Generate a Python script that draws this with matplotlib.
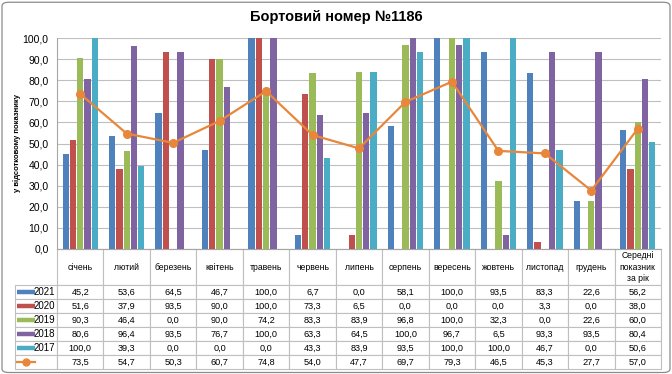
import numpy as np
import matplotlib
matplotlib.use("Agg")
import matplotlib.pyplot as plt
from matplotlib.table import Table
from matplotlib.patches import FancyBboxPatch

plt.rcParams['font.family'] = ['Liberation Sans', 'DejaVu Sans']

months = ['січень', 'лютий', 'березень', 'квітень', 'травень', 'червень',
          'липень', 'серпень', 'вересень', 'жовтень', 'листопад', 'грудень',
          'Середні\nпоказник\nза рік']
years = ['2021', '2020', '2019', '2018', '2017']
v2021 = [45.2, 53.6, 64.5, 46.7, 100.0, 6.7, 0.0, 58.1, 100.0, 93.5, 83.3, 22.6, 56.2]
v2020 = [51.6, 37.9, 93.5, 90.0, 100.0, 73.3, 6.5, 0.0, 0.0, 0.0, 3.3, 0.0, 38.0]
v2019 = [90.3, 46.4, 0.0, 90.0, 74.2, 83.3, 83.9, 96.8, 100.0, 32.3, 0.0, 22.6, 60.0]
v2018 = [80.6, 96.4, 93.5, 76.7, 100.0, 63.3, 64.5, 100.0, 96.7, 6.5, 93.3, 93.5, 80.4]
v2017 = [100.0, 39.3, 0.0, 0.0, 0.0, 43.3, 83.9, 93.5, 100.0, 100.0, 46.7, 0.0, 50.6]
average = [73.5, 54.7, 50.3, 60.7, 74.8, 54.0, 47.7, 69.7, 79.3, 46.5, 45.3, 27.7, 57.0]

series = [v2021, v2020, v2019, v2018, v2017]
colors = ['#4F81BD', '#C0504D', '#9BBB59', '#8064A2', '#4BACC6']
line_color = '#E8873A'
grid_color = '#BFBFBF'

W, H = 672, 374
fig = plt.figure(figsize=(W / 100, H / 100), dpi=100)

# plot area in pixels: x 57..661, y 38..249
px_l, px_r, px_t, px_b = 57, 661, 38, 249
ax = fig.add_axes([px_l / W, 1 - px_b / H, (px_r - px_l) / W, (px_b - px_t) / H])

n = len(months)
x = np.arange(n)
bw = 0.135
step = 0.157
for i, (vals, c) in enumerate(zip(series, colors)):
    ax.bar(x + (i - 2) * step, vals, width=bw, color=c, edgecolor='none', zorder=3)
ax.plot(x, average, color=line_color, lw=1.6, marker='o', ms=5.5, zorder=4)

ax.set_xlim(-0.5, n - 0.5)
ax.set_ylim(0, 100)
ax.set_yticks(np.arange(0, 101, 10))
ax.set_yticklabels([f'{v:.1f}'.replace('.', ',') for v in np.arange(0, 101, 10)], fontsize=7.5)
ax.set_xticks([])
ax.tick_params(axis='y', length=0, pad=6)
ax.grid(axis='y', color=grid_color, lw=0.8, zorder=0)
for s in ['top', 'right']:
    ax.spines[s].set_visible(False)
for s in ['left', 'bottom']:
    ax.spines[s].set_color('#A6A6A6')
    ax.spines[s].set_linewidth(0.8)

# data table below the plot (bbox covers the data cells only)
axh = px_b - px_t
axw = px_r - px_l
lab_w = 42 / axw
head_h = 36 / axh
row_h = 14 / axh
tot_h = head_h + 6 * row_h
tab = Table(ax, bbox=[0, -tot_h, 1, tot_h])
tab.auto_set_font_size(False)
col_w = 1 / n
for j, m in enumerate(months):
    c = tab.add_cell(0, j, width=col_w, height=head_h, text=m, loc='center')
    c.set_edgecolor(grid_color)
    c.set_linewidth(0.8)
    c.get_text().set_fontsize(6.2)
    c.get_text().set_linespacing(1.35)
rows = series + [average]
for r, vals in enumerate(rows, start=1):
    lab = years[r - 1] if r <= len(years) else ''
    c = tab.add_cell(r, -1, width=lab_w, height=row_h, text=lab, loc='right')
    c.PAD = 0.05
    c.set_edgecolor(grid_color)
    c.set_linewidth(0.8)
    c.get_text().set_fontsize(7)
    for j, v in enumerate(vals):
        c = tab.add_cell(r, j, width=col_w, height=row_h,
                         text=f'{v:.1f}'.replace('.', ','), loc='center')
        c.set_edgecolor(grid_color)
        c.set_linewidth(0.8)
        c.get_text().set_fontsize(6.6)
ax.add_table(tab)

# legend swatches in the row label column
sw_x0 = (17 - px_l) / axw
sw_x1 = (35 - px_l) / axw
for r in range(6):
    yc = -head_h - (r + 0.5) * row_h
    if r < 5:
        ax.plot([sw_x0, sw_x1], [yc, yc], color=colors[r], lw=3.2,
                solid_capstyle='butt', transform=ax.transAxes, clip_on=False)
    else:
        ax.plot([sw_x0, sw_x1], [yc, yc], color=line_color, lw=1.6,
                transform=ax.transAxes, clip_on=False)
        ax.plot([(sw_x0 + sw_x1) / 2], [yc], 'o', color=line_color, ms=5,
                transform=ax.transAxes, clip_on=False)

fig.text(0.5, 1 - 17 / H, 'Бортовий номер №1186', ha='center', va='center',
         fontsize=10.5, fontweight='bold')
fig.text(17 / W, 1 - 143 / H, 'у відсотковому показнику', rotation=90,
         ha='center', va='center', fontsize=5.5, fontweight='bold')

fig.patches.append(FancyBboxPatch((0.003, 0.004), 0.994, 0.99,
                                  boxstyle='round,pad=0,rounding_size=0.01',
                                  transform=fig.transFigure, fill=False,
                                  edgecolor='#8C8C8C', lw=0.9))

fig.savefig('out.png', dpi=100)
